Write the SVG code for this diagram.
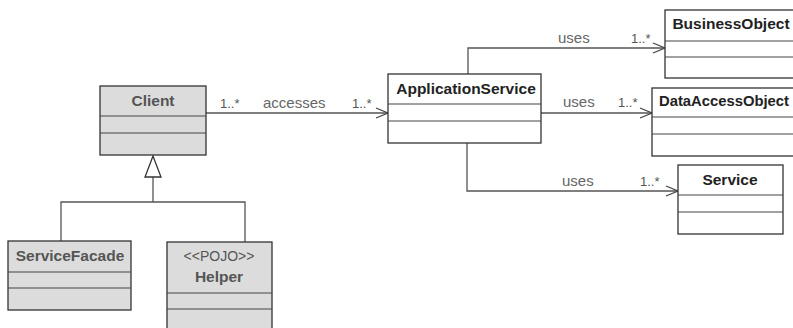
<svg xmlns="http://www.w3.org/2000/svg" width="793" height="328" viewBox="0 0 793 328">
  <style>
    .box { stroke: #333; stroke-width: 1.3; }
    .gray { fill: #dcdcdc; }
    .white { fill: #fff; }
    .div { stroke: #444; stroke-width: 1.2; }
    .name { font-family: "Liberation Sans", Arial, sans-serif; font-weight: bold; font-size: 15.5px; fill: #222; text-anchor: middle; }
    .dim { fill: #555; }
    .stereo { font-family: "Liberation Sans", Arial, sans-serif; font-size: 14px; fill: #555; text-anchor: middle; }
    .lbl { font-family: "Liberation Sans", Arial, sans-serif; font-size: 15px; fill: #666; }
    .mult { font-family: "Liberation Sans", Arial, sans-serif; font-size: 13px; fill: #555; }
    .line { fill: none; stroke: #555; stroke-width: 1.3; }
  </style>
  <defs>
    <marker id="open" markerWidth="14" markerHeight="12" refX="13" refY="6" orient="auto" markerUnits="userSpaceOnUse">
      <path d="M1,1 L13,6 L1,11" fill="none" stroke="#444" stroke-width="1.3"/>
    </marker>
  </defs>
  <rect width="793" height="328" fill="#fff"/>

  <!-- connectors -->
  <g id="connectors">
    <line class="line" x1="206" y1="113" x2="388" y2="113" marker-end="url(#open)"/>
    <polyline class="line" points="468,74 468,48 665,48" marker-end="url(#open)"/>
    <line class="line" x1="541" y1="113" x2="652" y2="113" marker-end="url(#open)"/>
    <polyline class="line" points="467,143 467,191 678,191" marker-end="url(#open)"/>
    <!-- generalization -->
    <polyline class="line" points="61,241 61,202 245,202 245,242"/>
    <line class="line" x1="153" y1="202" x2="153" y2="177"/>
    <polygon points="153,156 145,177 161,177" fill="#fff" stroke="#333" stroke-width="1.3"/>
    <text class="mult" x="220" y="108">1..*</text>
    <text class="lbl" x="263" y="108">accesses</text>
    <text class="mult" x="352" y="108">1..*</text>
    <text class="lbl" x="558" y="43">uses</text>
    <text class="mult" x="631" y="43">1..*</text>
    <text class="lbl" x="563" y="107">uses</text>
    <text class="mult" x="618" y="107">1..*</text>
    <text class="lbl" x="562" y="186">uses</text>
    <text class="mult" x="640" y="186">1..*</text>
  </g>

  <g id="client">
    <rect class="box gray" x="100" y="86" width="106" height="69"/>
    <line class="div" x1="100" y1="116" x2="206" y2="116"/>
    <line class="div" x1="100" y1="133" x2="206" y2="133"/>
    <text class="name dim" x="153" y="106">Client</text>
  </g>

  <g id="application-service">
    <rect class="box white" x="388" y="74" width="153" height="69"/>
    <line class="div" x1="388" y1="104" x2="541" y2="104"/>
    <line class="div" x1="388" y1="121" x2="541" y2="121"/>
    <text class="name" x="466" y="94">ApplicationService</text>
  </g>

  <g id="business-object">
    <rect class="box white" x="665" y="10" width="135" height="68"/>
    <line class="div" x1="665" y1="41" x2="793" y2="41"/>
    <line class="div" x1="665" y1="57" x2="793" y2="57"/>
    <text class="name" x="731" y="29">BusinessObject</text>
  </g>

  <g id="data-access-object">
    <rect class="box white" x="652" y="88" width="148" height="68"/>
    <line class="div" x1="652" y1="117" x2="793" y2="117"/>
    <line class="div" x1="652" y1="134" x2="793" y2="134"/>
    <text class="name" x="659" y="106" style="text-anchor:start;font-size:14.8px">DataAccessObject</text>
  </g>

  <g id="service">
    <rect class="box white" x="678" y="165" width="105" height="69"/>
    <line class="div" x1="678" y1="195" x2="783" y2="195"/>
    <line class="div" x1="678" y1="212" x2="783" y2="212"/>
    <text class="name" x="730" y="185">Service</text>
  </g>

  <g id="service-facade">
    <rect class="box gray" x="8" y="241" width="123" height="69"/>
    <line class="div" x1="8" y1="272" x2="131" y2="272"/>
    <line class="div" x1="8" y1="288" x2="131" y2="288"/>
    <text class="name dim" x="70" y="261">ServiceFacade</text>
  </g>

  <g id="helper">
    <rect class="box gray" x="167" y="242" width="105" height="100"/>
    <line class="div" x1="167" y1="293" x2="272" y2="293"/>
    <line class="div" x1="167" y1="309" x2="272" y2="309"/>
    <text class="stereo" x="219" y="261">&lt;&lt;POJO&gt;&gt;</text>
    <text class="name dim" x="219" y="282">Helper</text>
  </g>
</svg>
